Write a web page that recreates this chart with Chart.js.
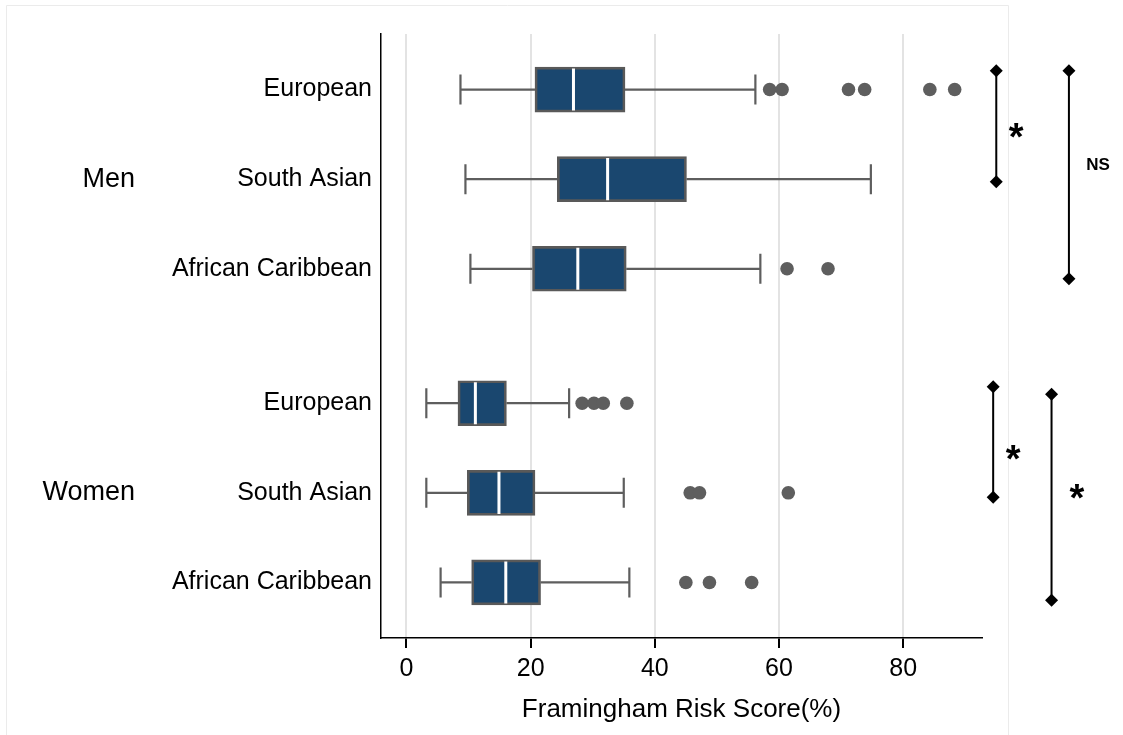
<!DOCTYPE html>
<html>
<head>
<meta charset="utf-8">
<script src="https://cdn.jsdelivr.net/npm/chart.js@4.4.1/dist/chart.umd.min.js"></script>
<style>
  html, body { margin: 0; padding: 0; background: #fff; }
</style>
</head>
<body>
<canvas id="grafico" width="1123" height="735"></canvas>
<script>
// rows, top to bottom
const groups = ["Men", "Women"];
const groupPositions = [1, 4.5];
const ethnicities = ["European", "South Asian", "African Caribbean", "European", "South Asian", "African Caribbean"];
const positions = [0, 1, 2, 3.5, 4.5, 5.5];

// box plot statistics (Framingham Risk Score, %)
const lowWhisker = [8.7, 9.5, 10.3, 3.2, 3.2, 5.5];
const q1 = [20.7, 24.3, 20.3, 8.3, 9.8, 10.5];
const medians = [26.9, 32.4, 27.6, 11.1, 14.9, 16.0];
const q3 = [35.2, 45.1, 35.4, 16.1, 20.7, 21.6];
const highWhisker = [56.2, 74.8, 57.0, 26.2, 35.0, 35.9];
const outliers = [
  [58.5, 60.5, 71.2, 73.8, 84.3, 88.3],
  [],
  [61.3, 67.9],
  [28.3, 30.2, 31.7, 35.5],
  [45.7, 47.2, 61.5],
  [45.0, 48.8, 55.6]
];

const xTicks = [0, 20, 40, 60, 80];

// significance brackets (drawn right of the plot)
const bracketX = [95.0, 106.7, 94.5, 103.9];
const bracketFrom = [-0.21, -0.21, 3.315, 3.40];
const bracketTo = [1.03, 2.11, 4.55, 5.70];
const bracketLabels = ["*", "NS", "*", "*"];
const labelX = [98.2, 111.4, 97.7, 108.0];
const labelY = [0.46, 0.83, 4.05, 4.49];

const CAP = 0.167;   // half height of whisker caps (y units)
const MED = 0.235;   // half height of median line (y units)
const GAP = { x: null, y: null };

// build line segments
const whiskerPts = [];
const medianPts = [];
const outlierPts = [];
positions.forEach((y, i) => {
  whiskerPts.push(
    { x: lowWhisker[i], y }, { x: q1[i], y }, GAP,
    { x: q3[i], y }, { x: highWhisker[i], y }, GAP,
    { x: lowWhisker[i], y: y - CAP }, { x: lowWhisker[i], y: y + CAP }, GAP,
    { x: highWhisker[i], y: y - CAP }, { x: highWhisker[i], y: y + CAP }, GAP
  );
  medianPts.push({ x: medians[i], y: y - MED }, { x: medians[i], y: y + MED }, GAP);
  outliers[i].forEach(v => outlierPts.push({ x: v, y }));
});

const bracketPts = [];
bracketX.forEach((bx, i) => {
  bracketPts.push({ x: bx, y: bracketFrom[i] }, { x: bx, y: bracketTo[i] }, GAP);
});

Chart.defaults.font.family = "'Liberation Sans', Arial, sans-serif";
Chart.defaults.color = "#000";

// frame of the graph region, bracket end markers and significance labels
const extras = {
  id: "extras",
  beforeDraw(chart) {
    const ctx = chart.ctx;
    ctx.save();
    ctx.strokeStyle = "#ebebeb";
    ctx.lineWidth = 1;
    ctx.beginPath();
    ctx.moveTo(6.5, 735);
    ctx.lineTo(6.5, 5.5);
    ctx.lineTo(1008.5, 5.5);
    ctx.lineTo(1008.5, 735);
    ctx.stroke();
    ctx.restore();
  },
  afterDraw(chart) {
    const { ctx, scales } = chart;
    ctx.save();
    ctx.fillStyle = "#000";

    // diamonds at bracket ends (outside the chart area, so drawn here)
    const r = 6.5;
    bracketX.forEach((bx, i) => {
      const px = scales.x.getPixelForValue(bx);
      [bracketFrom[i], bracketTo[i]].forEach(v => {
        const py = scales.y.getPixelForValue(v);
        ctx.beginPath();
        ctx.moveTo(px, py - r);
        ctx.lineTo(px + r, py);
        ctx.lineTo(px, py + r);
        ctx.lineTo(px - r, py);
        ctx.closePath();
        ctx.fill();
      });
    });

    ctx.textAlign = "center";
    ctx.textBaseline = "alphabetic";
    bracketLabels.forEach((txt, i) => {
      ctx.font = txt === "NS" ? "bold 17px 'Liberation Sans', Arial" : "bold 38px 'Liberation Sans', Arial";
      const m = ctx.measureText(txt);
      const cx = scales.x.getPixelForValue(labelX[i]);
      const cy = scales.y.getPixelForValue(labelY[i]);
      ctx.fillText(txt, cx, cy + (m.actualBoundingBoxAscent - m.actualBoundingBoxDescent) / 2);
    });
    ctx.restore();
  }
};

new Chart(document.getElementById("grafico"), {
  type: "bar",
  data: {
    datasets: [
      {
        type: "bar",
        indexAxis: "y",
        data: positions.map((y, i) => ({ y, x: [q1[i], q3[i]] })),
        backgroundColor: "#1a476f",
        borderColor: "#595959",
        borderWidth: 2.7,
        borderSkipped: false,
        barThickness: 45,
        order: 2
      },
      {
        type: "line",
        data: whiskerPts,
        borderColor: "#5e5e5e",
        borderWidth: 2.2,
        pointRadius: 0,
        spanGaps: false,
        order: 3
      },
      {
        type: "line",
        data: medianPts,
        borderColor: "#ffffff",
        borderWidth: 3,
        pointRadius: 0,
        spanGaps: false,
        order: 1
      },
      {
        type: "scatter",
        data: outlierPts,
        backgroundColor: "#5e5e5e",
        borderWidth: 0,
        pointRadius: 6.8,
        order: 0
      },
      {
        type: "line",
        data: bracketPts,
        borderColor: "#000",
        borderWidth: 2,
        pointRadius: 0,
        spanGaps: false,
        clip: false,
        order: 0
      }
    ]
  },
  options: {
    responsive: false,
    animation: false,
    layout: { padding: { top: 34, right: 141, bottom: 0, left: 0 } },
    plugins: { legend: { display: false }, tooltip: { enabled: false } },
    scales: {
      x: {
        type: "linear",
        min: -4.1,
        max: 92.7,
        offset: false,
        afterBuildTicks: s => { s.ticks = xTicks.map(v => ({ value: v })); },
        ticks: { font: { size: 25 }, color: "#000", padding: 6 },
        grid: { offset: false, color: "#e3e3e3", lineWidth: 2, tickColor: "#000", tickLength: 10 },
        border: { color: "#000", width: 1.5 },
        title: {
          display: true,
          text: "Framingham Risk Score(%)",
          font: { size: 26 },
          color: "#000",
          padding: { top: 0, bottom: 10 }
        },
        afterFit: s => { s.height = 97; }
      },
      y: {
        type: "linear",
        position: "left",
        reverse: true,
        min: -0.62,
        max: 6.12,
        offset: false,
        weight: 0,
        afterBuildTicks: s => { s.ticks = positions.map(v => ({ value: v })); },
        ticks: {
          autoSkip: false,
          font: { size: 25 },
          color: "#000",
          padding: 9,
          callback: (v, i) => ethnicities[i]
        },
        grid: { offset: false, display: false, drawTicks: false },
        border: { color: "#000", width: 1.5 },
        afterFit: s => { s.width = 231; }
      },
      yGroup: {
        type: "linear",
        position: "left",
        reverse: true,
        min: -0.62,
        max: 6.12,
        offset: false,
        weight: 1,
        afterBuildTicks: s => { s.ticks = groupPositions.map(v => ({ value: v })); },
        ticks: {
          autoSkip: false,
          font: { size: 27 },
          color: "#000",
          padding: 15,
          callback: (v, i) => groups[i]
        },
        grid: { offset: false, display: false, drawTicks: false },
        border: { display: false },
        afterFit: s => { s.width = 150; }
      }
    }
  },
  plugins: [extras]
});
</script>
</body>
</html>
